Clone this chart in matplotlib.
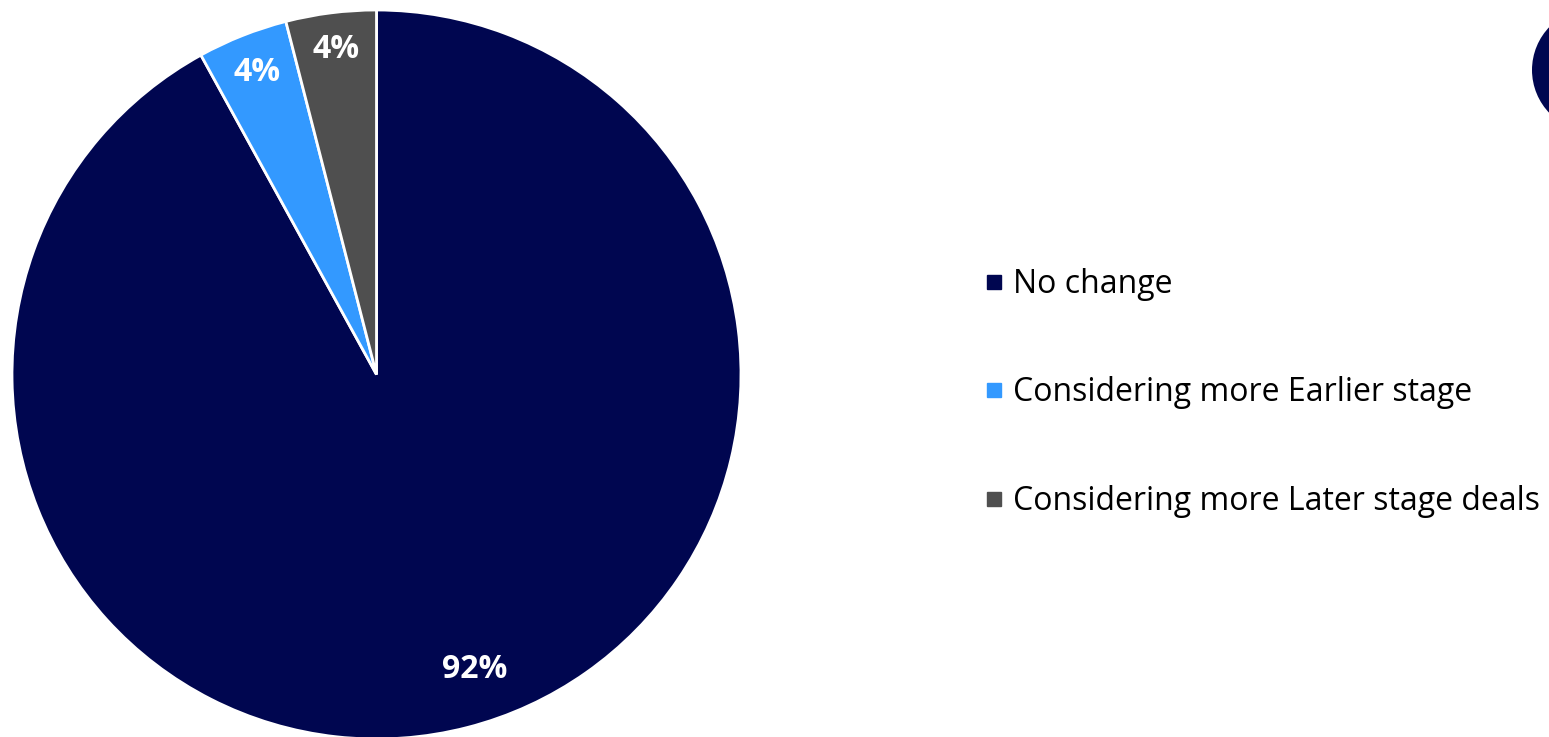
import matplotlib.pyplot as plt
from matplotlib.lines import Line2D
from matplotlib.patches import Ellipse

plt.rcParams['font.family'] = ['Open Sans', 'DejaVu Sans']

labels = ["No change", "Considering more Earlier stage", "Considering more Later stage deals"]
shares = [92, 4, 4]
colors = ["#000650", "#3399FF", "#4F4F4F"]

fig = plt.figure(figsize=(15.49, 7.37), dpi=100)

# pie axes: square box, 729 px wide
W, H = 1549, 737
ax = fig.add_axes([12 / W, (737 - 739) / H, 729 / W, 729 / H])
wedges, texts, autotexts = ax.pie(
    shares, colors=colors, startangle=90, counterclock=False, radius=1,
    autopct="%d%%", pctdistance=0.89,
    wedgeprops=dict(edgecolor="white", linewidth=2),
    textprops=dict(color="white", fontsize=23, fontweight="bold"),
)
# the big slice label sits lower right, closer to the centre
autotexts[0].set_position((0.27, -0.81))
autotexts[2].set_position((autotexts[2].get_position()[0], autotexts[2].get_position()[1] + 0.01))
ax.set_xlim(-1, 1)
ax.set_ylim(-1, 1)
ax.set_aspect("equal")
ax.axis("off")

handles = [Line2D([], [], marker="s", color=c, linestyle="none", markersize=10)
           for c in colors]
fig.legend(handles, labels, loc="upper left", bbox_to_anchor=(962 / W, 1 - 252 / H),
           frameon=False, fontsize=23, labelspacing=2.36, handletextpad=0.1,
           borderpad=0, handlelength=1.0)

# round badge partly off the right edge
fig.patches.append(Ellipse((1594 / W, 1 - 70 / H), 124 / W, 124 / H,
                           transform=fig.transFigure,
                           facecolor="#000650", edgecolor="none"))

fig.savefig("out.png", dpi=100)
